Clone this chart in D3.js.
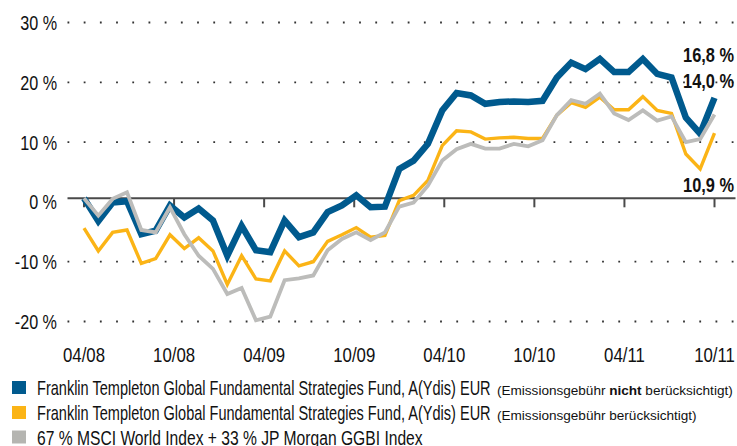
<!DOCTYPE html>
<html>
<head>
<meta charset="utf-8">
<script src="https://cdn.jsdelivr.net/npm/d3@7"></script>
<style>
  html, body { margin: 0; padding: 0; background: #fff; }
  svg { display: block; }
  text { font-family: "Liberation Sans", Arimo, Arial, sans-serif; fill: #111; }
</style>
</head>
<body>
<script>
// ---- data ----
const tickLabels = ["04/08", "10/08", "04/09", "10/09", "04/10", "10/10", "04/11", "10/11"];
const yTicks = [30, 20, 10, 0, -10, -20];
const fundNoFee = [0, -3.8, -0.7, -0.5, -6.0, -5.4, -1.2, -3.2, -1.7, -3.7, -9.6, -4.6, -8.7, -9.0, -3.7, -6.5, -5.7, -2.3, -1.2, 0.5, -1.5, -1.4, 4.9, 6.3, 9.1, 14.7, 17.6, 17.2, 15.8, 16.1, 16.2, 16.1, 16.3, 20.2, 22.7, 21.6, 23.3, 21.1, 21.1, 23.3, 20.8, 20.2, 13.5, 10.8, 16.8];
const fundFee = [-5.0, -8.8, -5.7, -5.3, -10.9, -10.1, -6.1, -8.4, -6.6, -8.8, -14.4, -9.6, -13.5, -13.8, -8.8, -11.3, -10.6, -7.2, -6.1, -4.9, -6.5, -6.2, -0.4, 0.5, 3.0, 8.8, 11.3, 11.1, 9.9, 10.1, 10.2, 10.0, 10.0, 13.9, 16.0, 15.2, 16.9, 14.8, 14.8, 17.0, 14.7, 14.2, 7.4, 4.9, 10.9];
const benchmark = [0, -2.9, -0.1, 1.0, -5.3, -5.7, -1.5, -6.0, -9.6, -11.8, -16.0, -15.0, -20.4, -19.8, -13.7, -13.4, -12.9, -8.7, -6.8, -5.7, -7.0, -5.7, -1.4, -0.7, 2.1, 6.3, 8.2, 9.1, 8.3, 8.3, 9.1, 8.7, 9.7, 13.9, 16.4, 15.8, 17.5, 14.2, 13.1, 14.7, 13.0, 13.7, 9.4, 9.9, 14.0];
const endLabels = ["16,8 %", "14,0 %", "10,9 %"];
const legendMain = [
  "Franklin Templeton Global Fundamental Strategies Fund, A(Ydis) EUR",
  "Franklin Templeton Global Fundamental Strategies Fund, A(Ydis) EUR",
  "67 % MSCI World Index + 33 % JP Morgan GGBI Index"
];

const colors = { blue: "#005a8e", yellow: "#fbb416", grey: "#bcbcba" };

const W = 737, H = 446;
const svg = d3.select("body").append("svg").attr("width", W).attr("height", H);

// condense text horizontally (the original uses a condensed face):
// either a fixed factor k, or a target width function
function condense(sel, k, targetFn) {
  sel.each(function (d, i) {
    const t = d3.select(this);
    const len = this.getComputedTextLength();
    const f = targetFn ? targetFn(d, i) / len : k;
    const px = +t.attr("x") || 0, py = +t.attr("y") || 0;
    t.attr("x", 0).attr("y", 0)
     .attr("transform", `translate(${px},${py}) scale(${f},1)`);
  });
}

const n = fundNoFee.length;
const x = d3.scaleLinear().domain([0, n - 1]).range([84, 714.5]);
const y = d3.scaleLinear().domain([-20, 30]).range([321.5, 22.5]);
const gridLeft = 67.5, gridRight = 736;

// dotted grid lines (not at 0)
svg.append("g").selectAll("line").data(yTicks.filter(v => v !== 0)).join("line")
  .attr("x1", gridLeft).attr("x2", gridRight)
  .attr("y1", d => y(d)).attr("y2", d => y(d))
  .attr("stroke", "#333").attr("stroke-width", 1.8)
  .attr("stroke-dasharray", "1.8 14.4");

// y labels
svg.append("g").selectAll("text").data(yTicks).join("text")
  .attr("x", 57).attr("y", d => y(d)).attr("dy", "0.36em")
  .attr("text-anchor", "end").attr("font-size", 21)
  .text(d => d + " %")
  .call(condense, 0.77);

// data group (zero line sits a bit above the label centre)
const g = svg.append("g").attr("transform", "translate(0,-3.6)");

// zero axis
g.append("line").attr("x1", gridLeft).attr("x2", 735.5)
  .attr("y1", y(0)).attr("y2", y(0))
  .attr("stroke", "#4a4a4a").attr("stroke-width", 2);

// ticks
const tickPos = tickLabels.map((t, k) => k * (n - 1) / (tickLabels.length - 1));
g.append("g").selectAll("line").data(tickPos).join("line")
  .attr("x1", d => x(d)).attr("x2", d => x(d))
  .attr("y1", y(0)).attr("y2", y(0) + 9)
  .attr("stroke", "#4a4a4a").attr("stroke-width", 2);

// x labels
svg.append("g").selectAll("text").data(tickLabels).join("text")
  .attr("x", (d, k) => x(tickPos[k])).attr("y", 362)
  .attr("text-anchor", "middle").attr("font-size", 21)
  .text(d => d)
  .call(condense, 0.8);

const line = d3.line().x((d, i) => x(i)).y(d => y(d));

g.append("path").datum(fundNoFee).attr("d", line)
  .attr("fill", "none").attr("stroke", colors.blue).attr("stroke-width", 6.5)
  .attr("stroke-linejoin", "miter").attr("stroke-miterlimit", 3);
g.append("path").datum(fundFee).attr("d", line)
  .attr("fill", "none").attr("stroke", colors.yellow).attr("stroke-width", 3.4)
  .attr("stroke-linejoin", "miter").attr("stroke-miterlimit", 3);
g.append("path").datum(benchmark).attr("d", line)
  .attr("fill", "none").attr("stroke", colors.grey).attr("stroke-width", 3.8)
  .attr("stroke-linejoin", "miter").attr("stroke-miterlimit", 3);

// end labels
const endY = [62, 88, 192];
svg.append("g").selectAll("text").data(endLabels).join("text")
  .attr("x", 734).attr("y", (d, i) => endY[i])
  .attr("text-anchor", "end").attr("font-size", 20).attr("font-weight", "bold")
  .text(d => d)
  .call(condense, null, () => 51);

// legend
const legColors = [colors.blue, colors.yellow, "#b5b5b1"];
const legBase = [395, 420, 444.5];
const legMainLen = [454, 454, 386];
const lg = svg.append("g");
legColors.forEach((c, i) => {
  lg.append("rect").attr("x", 12).attr("y", legBase[i] - 14).attr("width", 14).attr("height", 13).attr("fill", c);
  lg.append("text").attr("x", 37).attr("y", legBase[i]).attr("font-size", 21)
    .text(legendMain[i])
    .call(condense, null, () => legMainLen[i]);
});
const s1 = lg.append("text").attr("x", 497).attr("y", legBase[0]).attr("font-size", 13.5);
s1.append("tspan").text("(Emissionsgebühr ");
s1.append("tspan").attr("font-weight", "bold").text("nicht");
s1.append("tspan").text(" berücksichtigt)");
s1.call(condense, null, () => 236);
lg.append("text").attr("x", 497).attr("y", legBase[1]).attr("font-size", 13.5)
  .text("(Emissionsgebühr berücksichtigt)")
  .call(condense, null, () => 200);
</script>
</body>
</html>
